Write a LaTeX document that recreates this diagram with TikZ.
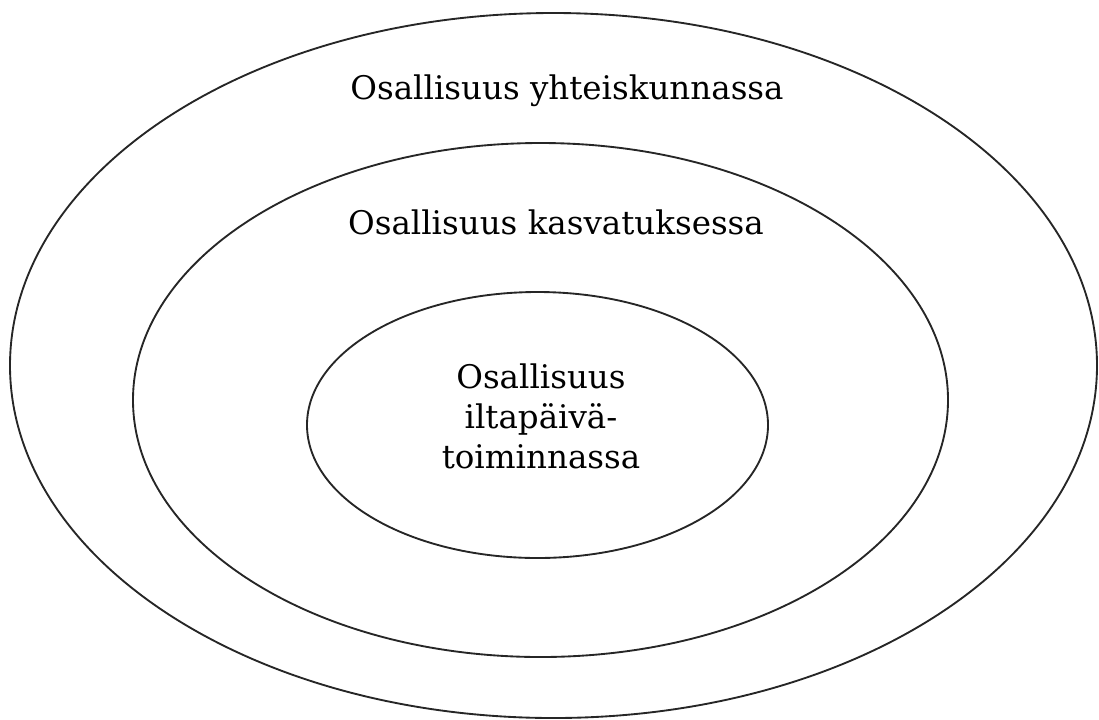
\documentclass[tikz,border=0pt]{standalone}
\usepackage{fontspec}
\setmainfont{DejaVu Serif}
\begin{document}
\begin{tikzpicture}[x=0.75pt,y=-0.75pt,
  ring/.style={draw=black!85,line width=1.4pt},
  lbl/.style={font=\fontsize{24.4}{30}\selectfont,text=black,inner sep=0pt}]
\useasboundingbox (0,0) rectangle (1099,719);
\coordinate (c1) at (553.5,365.5);
\coordinate (c2) at (540.5,400);
\coordinate (c3) at (537.5,425);
\draw[ring] (c1) ellipse [x radius=543.5, y radius=352.5];
\draw[ring] (c2) ellipse [x radius=407.5, y radius=257];
\draw[ring] (c3) ellipse [x radius=230.5, y radius=133];
\node[lbl,anchor=base] (t1) at (567,99) {Osallisuus yhteiskunnassa};
\node[lbl,anchor=base] (t2) at (556,234) {Osallisuus kasvatuksessa};
\node[lbl,align=center,anchor=center] (t3) at (541,416) {Osallisuus\\iltapäivä-\\toiminnassa};
\end{tikzpicture}
\end{document}
